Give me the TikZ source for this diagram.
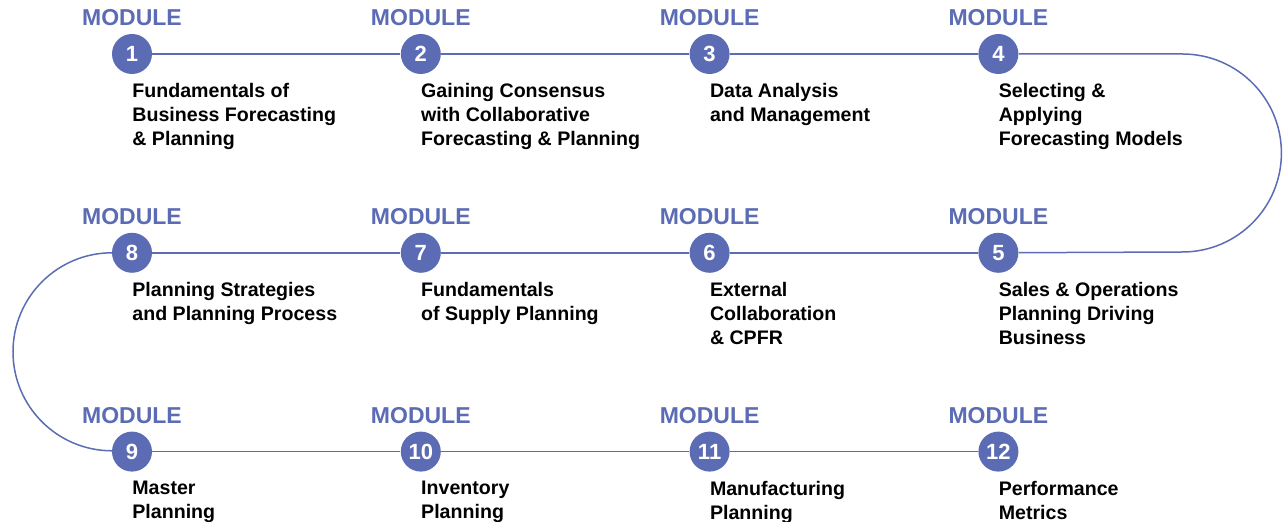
\documentclass[tikz,border=0pt]{standalone}
\usepackage{fontspec}
\setmainfont{Liberation Sans}
\usetikzlibrary{positioning}
\definecolor{modblue}{RGB}{91,108,180}

\begin{document}
\begin{tikzpicture}[x=0.5pt,y=0.5pt,
	numstyle/.style={circle,fill=modblue,minimum size=20pt,inner sep=0pt,text=white,font=\fontsize{11}{12}\selectfont\bfseries},
	modstyle/.style={text=modblue,inner sep=0pt,font=\fontsize{11.5}{13}\selectfont\bfseries},
	descstyle/.style={anchor=north west,align=left,inner sep=0pt,font=\fontsize{9.8}{12}\selectfont\bfseries},
	linkstyle/.style={draw=modblue,line width=0.75pt}
]
	\useasboundingbox (0,0) rectangle (1283,-522);

	\node[numstyle] at (132,-54) (m1) {1};
	\node[numstyle,right=124pt of m1] (m2) {2};
	\node[numstyle,right=124pt of m2] (m3) {3};
	\node[numstyle,right=124pt of m3] (m4) {4};

	\node[numstyle,below=79pt of m1] (m8) {8};
	\node[numstyle,right=124pt of m8] (m7) {7};
	\node[numstyle,right=124pt of m7] (m6) {6};
	\node[numstyle,right=124pt of m6] (m5) {5};

	\node[numstyle,below=79pt of m8] (m9) {9};
	\node[numstyle,right=124pt of m9] (m10) {10};
	\node[numstyle,right=124pt of m10] (m11) {11};
	\node[numstyle,right=124pt of m11] (m12) {12};

	\node[modstyle,above=3.5pt of m1] (l1) {MODULE};
	\node[modstyle,above=3.5pt of m2] (l2) {MODULE};
	\node[modstyle,above=3.5pt of m3] (l3) {MODULE};
	\node[modstyle,above=3.5pt of m4] (l4) {MODULE};
	\node[modstyle,above=3.5pt of m5] (l5) {MODULE};
	\node[modstyle,above=3.5pt of m6] (l6) {MODULE};
	\node[modstyle,above=3.5pt of m7] (l7) {MODULE};
	\node[modstyle,above=3.5pt of m8] (l8) {MODULE};
	\node[modstyle,above=3.5pt of m9] (l9) {MODULE};
	\node[modstyle,above=3.5pt of m10] (l10) {MODULE};
	\node[modstyle,above=3.5pt of m11] (l11) {MODULE};
	\node[modstyle,above=3.5pt of m12] (l12) {MODULE};

	\node[below=4.5pt of m1.south,descstyle] (d1) {Fundamentals of\\Business Forecasting\\\& Planning};
	\node[below=4.5pt of m2.south,descstyle] (d2) {Gaining Consensus\\with Collaborative\\Forecasting \& Planning};
	\node[below=4.5pt of m3.south,descstyle] (d3) {Data Analysis\\and Management};
	\node[below=4.5pt of m4.south,descstyle] (d4) {Selecting \&\\Applying\\Forecasting Models};
	\node[below=4.5pt of m5.south,descstyle] (d5) {Sales \& Operations\\Planning Driving\\Business};
	\node[below=4.5pt of m6.south,descstyle] (d6) {External\\Collaboration\\\& CPFR};
	\node[below=4.5pt of m7.south,descstyle] (d7) {Fundamentals\\of Supply Planning};
	\node[below=4.5pt of m8.south,descstyle] (d8) {Planning Strategies\\and Planning Process};
	\node[below=4.5pt of m9.south,descstyle] (d9) {Master\\Planning};
	\node[below=4.5pt of m10.south,descstyle] (d10) {Inventory\\Planning};
	\node[below=4.5pt of m11.south,descstyle] (d11) {Manufacturing\\Planning};
	\node[below=4.5pt of m12.south,descstyle] (d12) {Performance\\Metrics};

	\draw[linkstyle] (m1) -- (m2);
	\draw[linkstyle] (m2) -- (m3);
	\draw[linkstyle] (m3) -- (m4);
	\draw[linkstyle] (m4) -- ++(92pt,0) arc[start angle=90,end angle=-90,radius=49.5pt] -- (m5);
	\draw[linkstyle] (m5) -- (m6);
	\draw[linkstyle] (m6) -- (m7);
	\draw[linkstyle] (m7) -- (m8);
	\draw[linkstyle] (m8) -- ++(-10pt,0) arc[start angle=90,end angle=270,radius=49.5pt] -- (m9);
	\draw[linkstyle] (m9) -- (m10);
	\draw[linkstyle] (m10) -- (m11);
	\draw[linkstyle] (m11) -- (m12);
\end{tikzpicture}
\end{document}
